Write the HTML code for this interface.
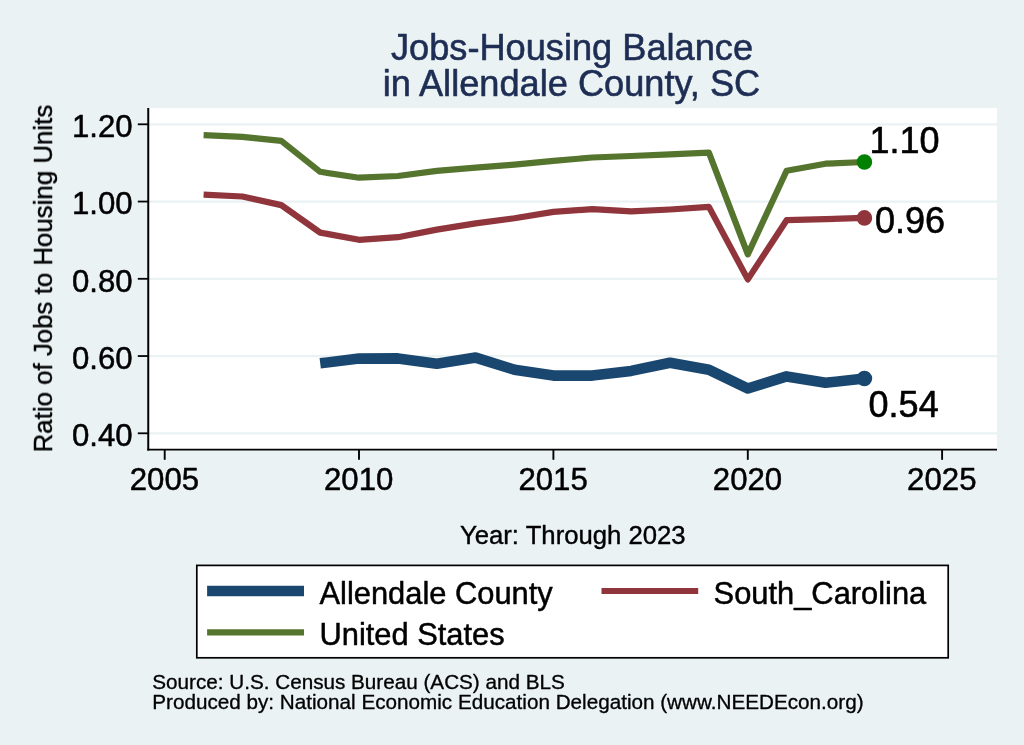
<!DOCTYPE html>
<html><head><meta charset="utf-8"><title>Jobs-Housing Balance</title>
<style>
html,body{margin:0;padding:0;background:#EAF2F3;}
body{width:1024px;height:745px;overflow:hidden;}
svg{display:block;font-family:"Liberation Sans",sans-serif;}
</style></head><body>
<svg width="1024" height="745" viewBox="0 0 1024 745">
<rect x="0" y="0" width="1024" height="745" fill="#EAF2F3"/>
<rect x="148" y="108" width="849" height="341.6" fill="#FFFFFF"/>
<g opacity="0.999">

<line x1="148" x2="997" y1="124.3" y2="124.3" stroke="#EAF2F3" stroke-width="2.3"/>
<line x1="148" x2="997" y1="201.55" y2="201.55" stroke="#EAF2F3" stroke-width="2.3"/>
<line x1="148" x2="997" y1="278.8" y2="278.8" stroke="#EAF2F3" stroke-width="2.3"/>
<line x1="148" x2="997" y1="356.05" y2="356.05" stroke="#EAF2F3" stroke-width="2.3"/>
<line x1="148" x2="997" y1="433.3" y2="433.3" stroke="#EAF2F3" stroke-width="2.3"/>
<polyline points="320.2,363.3 359.0,358.6 397.9,358.4 436.8,363.7 475.7,357.6 514.5,369.7 553.4,375.6 592.3,375.6 631.1,370.9 670.0,362.7 708.9,369.8 747.8,388.5 786.6,376.4 825.5,382.8 864.4,378.5" fill="none" stroke="#1A476F" stroke-width="10.6" stroke-linejoin="round" stroke-linecap="butt"/>
<polyline points="203.6,194.7 242.4,196.5 281.3,205.1 320.2,232.6 359.0,239.8 397.9,237.2 436.8,229.6 475.7,223.4 514.5,218.3 553.4,211.9 592.3,209.1 631.1,211.4 670.0,209.5 708.9,206.9 747.8,279.4 786.6,220.2 825.5,219.1 864.4,217.9" fill="none" stroke="#90353B" stroke-width="6.2" stroke-linejoin="round" stroke-linecap="butt"/>
<polyline points="203.6,135.2 242.4,136.9 281.3,140.8 320.2,171.8 359.0,177.7 397.9,176.0 436.8,170.9 475.7,167.6 514.5,164.6 553.4,160.9 592.3,157.5 631.1,156.0 670.0,154.4 708.9,152.7 747.8,254.4 786.6,170.8 825.5,163.7 864.4,162.0" fill="none" stroke="#55752F" stroke-width="6.2" stroke-linejoin="round" stroke-linecap="butt"/>
<circle cx="864.4" cy="378.5" r="7.8" fill="#1A476F"/>
<circle cx="864.4" cy="217.9" r="7.8" fill="#90353B"/>
<circle cx="864.4" cy="162.0" r="7.8" fill="#008000"/>
<line x1="148.25" x2="148.25" y1="108" y2="450.45" stroke="#000" stroke-width="2"/>
<line x1="147.25" x2="997" y1="449.55" y2="449.55" stroke="#000" stroke-width="1.8"/>
<line x1="137.8" x2="148" y1="124.3" y2="124.3" stroke="#000" stroke-width="1.8"/>
<text x="132.6" y="137.1" font-size="31.2" text-anchor="end" fill="#000" stroke="#000" stroke-width="0.50" stroke-linejoin="round">1.20</text>
<line x1="137.8" x2="148" y1="201.55" y2="201.55" stroke="#000" stroke-width="1.8"/>
<text x="132.6" y="214.4" font-size="31.2" text-anchor="end" fill="#000" stroke="#000" stroke-width="0.50" stroke-linejoin="round">1.00</text>
<line x1="137.8" x2="148" y1="278.8" y2="278.8" stroke="#000" stroke-width="1.8"/>
<text x="132.6" y="291.6" font-size="31.2" text-anchor="end" fill="#000" stroke="#000" stroke-width="0.50" stroke-linejoin="round">0.80</text>
<line x1="137.8" x2="148" y1="356.05" y2="356.05" stroke="#000" stroke-width="1.8"/>
<text x="132.6" y="368.9" font-size="31.2" text-anchor="end" fill="#000" stroke="#000" stroke-width="0.50" stroke-linejoin="round">0.60</text>
<line x1="137.8" x2="148" y1="433.3" y2="433.3" stroke="#000" stroke-width="1.8"/>
<text x="132.6" y="446.1" font-size="31.2" text-anchor="end" fill="#000" stroke="#000" stroke-width="0.50" stroke-linejoin="round">0.40</text>
<line x1="164.7" x2="164.7" y1="449.5" y2="459.8" stroke="#000" stroke-width="1.9"/>
<text x="164.4" y="490.3" font-size="31.2" text-anchor="middle" fill="#000" stroke="#000" stroke-width="0.50" stroke-linejoin="round">2005</text>
<line x1="359.0" x2="359.0" y1="449.5" y2="459.8" stroke="#000" stroke-width="1.9"/>
<text x="358.7" y="490.3" font-size="31.2" text-anchor="middle" fill="#000" stroke="#000" stroke-width="0.50" stroke-linejoin="round">2010</text>
<line x1="553.4" x2="553.4" y1="449.5" y2="459.8" stroke="#000" stroke-width="1.9"/>
<text x="553.1" y="490.3" font-size="31.2" text-anchor="middle" fill="#000" stroke="#000" stroke-width="0.50" stroke-linejoin="round">2015</text>
<line x1="747.8" x2="747.8" y1="449.5" y2="459.8" stroke="#000" stroke-width="1.9"/>
<text x="747.5" y="490.3" font-size="31.2" text-anchor="middle" fill="#000" stroke="#000" stroke-width="0.50" stroke-linejoin="round">2020</text>
<line x1="942.1" x2="942.1" y1="449.5" y2="459.8" stroke="#000" stroke-width="1.9"/>
<text x="941.8" y="490.3" font-size="31.2" text-anchor="middle" fill="#000" stroke="#000" stroke-width="0.50" stroke-linejoin="round">2025</text>
<text id="ml1" x="869.4" y="153.1" font-size="36.0" fill="#000" stroke="#000" stroke-width="0.58" stroke-linejoin="round">1.10</text>
<text id="ml2" x="874.9" y="232.9" font-size="36.0" fill="#000" stroke="#000" stroke-width="0.58" stroke-linejoin="round">0.96</text>
<text id="ml3" x="868.6" y="416.8" font-size="36.0" fill="#000" stroke="#000" stroke-width="0.58" stroke-linejoin="round">0.54</text>
<text id="t1" x="572.0" y="59.6" font-size="36.2" text-anchor="middle" fill="#1E2D53" stroke="#1E2D53" stroke-width="0.58" stroke-linejoin="round">Jobs-Housing Balance</text>
<text id="t2" x="571.5" y="95.9" font-size="36.2" text-anchor="middle" fill="#1E2D53" stroke="#1E2D53" stroke-width="0.58" stroke-linejoin="round">in Allendale County, SC</text>
<text id="xt" x="572.8" y="544.3" font-size="25.7" text-anchor="middle" fill="#000" stroke="#000" stroke-width="0.41" stroke-linejoin="round">Year: Through 2023</text>
<text id="yt" transform="translate(52.0,278.6) rotate(-90)" font-size="25.85" text-anchor="middle" fill="#000" stroke="#000" stroke-width="0.41" stroke-linejoin="round">Ratio of Jobs to Housing Units</text>
<rect x="196.8" y="565.4" width="751.4" height="92.4" fill="#FFFFFF" stroke="#000" stroke-width="1.7"/>
<line x1="207.1" x2="304" y1="591" y2="591" stroke="#1A476F" stroke-width="10.6"/>
<line x1="207.1" x2="304" y1="632.4" y2="632.4" stroke="#55752F" stroke-width="6.2"/>
<line x1="601.5" x2="698.2" y1="591" y2="591" stroke="#90353B" stroke-width="6.2"/>
<text id="l1" x="319.5" y="603.7" font-size="30.85" fill="#000" stroke="#000" stroke-width="0.49" stroke-linejoin="round">Allendale County</text>
<text id="l2" x="319.5" y="644.6" font-size="30.85" fill="#000" stroke="#000" stroke-width="0.49" stroke-linejoin="round">United States</text>
<text id="l3" x="713.6" y="603.7" font-size="30.85" fill="#000" stroke="#000" stroke-width="0.49" stroke-linejoin="round">South_Carolina</text>
<text id="n1" x="152.3" y="688.7" font-size="20.68" fill="#000" stroke="#000" stroke-width="0.33" stroke-linejoin="round">Source: U.S. Census Bureau (ACS) and BLS</text>
<text id="n2" x="152.3" y="709.3" font-size="20.68" fill="#000" stroke="#000" stroke-width="0.33" stroke-linejoin="round">Produced by: National Economic Education Delegation (www.NEEDEcon.org)</text>
</g></svg></body></html>
